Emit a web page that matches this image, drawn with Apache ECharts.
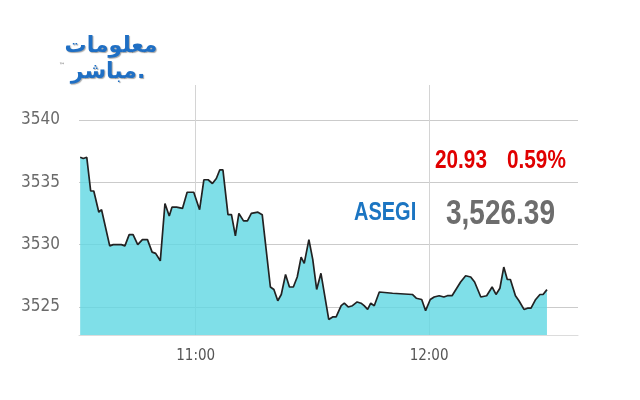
<!DOCTYPE html>
<html><head><meta charset="utf-8">
<script src="https://cdn.jsdelivr.net/npm/echarts@6/dist/echarts.min.js"></script>
<style>html,body{margin:0;padding:0;background:#fff}#c{width:640px;height:400px}</style>
</head><body><div id="c"></div>
<script>
// minutes after 10:00
const minutes = [30.3,31.1,32.0,33.0,33.8,35.1,35.8,37.9,38.8,40.9,41.8,42.9,43.9,45.1,46.3,47.6,48.8,49.7,50.9,52.1,53.2,53.9,55.1,56.6,57.8,59.5,61.0,62.1,63.2,64.3,65.3,66.2,67.0,68.3,69.2,70.2,71.1,72.3,73.3,74.3,76.0,77.1,79.2,80.1,81.1,82.0,83.1,84.1,85.1,86.1,87.1,87.9,89.1,90.1,91.1,92.2,94.2,95.2,96.1,97.4,98.2,99.2,100.3,101.5,102.5,103.3,104.2,105.0,105.9,107.2,110.6,115.7,116.7,118.1,119.1,120.3,121.3,122.6,123.8,124.7,125.9,128.1,129.4,130.7,131.7,133.3,134.8,136.2,137.2,138.2,139.2,140.1,140.9,142.2,143.1,144.4,145.3,146.2,147.4,148.5,149.3,150.3];
const values = [3537.0,3536.9,3537.0,3534.3,3534.3,3532.6,3532.8,3529.9,3530.0,3530.0,3529.9,3530.8,3530.8,3530.0,3530.4,3530.4,3529.4,3529.3,3528.7,3533.3,3532.3,3533.0,3533.0,3532.9,3534.2,3534.2,3532.8,3535.2,3535.2,3534.9,3535.3,3536.0,3536.0,3532.4,3532.4,3530.7,3532.5,3531.9,3531.9,3532.5,3532.6,3532.4,3526.6,3526.4,3525.5,3526.0,3527.6,3526.6,3526.6,3527.4,3529.0,3528.5,3530.4,3528.8,3526.4,3527.7,3524.0,3524.2,3524.2,3525.1,3525.3,3525.0,3525.1,3525.4,3525.3,3525.1,3524.8,3525.3,3525.1,3526.2,3526.1,3526.0,3525.7,3525.6,3524.7,3525.6,3525.8,3525.9,3525.8,3525.9,3525.9,3527.0,3527.5,3527.4,3527.0,3525.8,3525.9,3526.6,3526.0,3526.5,3528.2,3527.2,3527.2,3525.9,3525.5,3524.8,3524.9,3524.9,3525.6,3526.0,3526.0,3526.39];
const startHour = 10;
const indexName = 'ASEGI';
const lastValue = '3,526.39';
const change = '20.93';
const changePct = '0.59%';
const logoLine1 = 'معلومات';
const logoLine2 = 'مباشر.';

const sans = '"DejaVu Sans Condensed", "Liberation Sans", Arial, sans-serif';
const bold = '"Liberation Sans", Arial, sans-serif';
const data = minutes.map((m, i) => [m / 60, values[i]]);

const chart = echarts.init(document.getElementById('c'));
chart.setOption({
  animation: false,
  backgroundColor: '#fff',
  grid: { left: 79, right: 62, top: 85, bottom: 65 },
  xAxis: {
    type: 'value', min: 0.5, max: 2.638, splitNumber: 2,
    axisLine: { show: true, lineStyle: { color: '#dcdcdc', width: 1 } },
    axisTick: { show: false },
    axisLabel: {
      showMinLabel: false, showMaxLabel: false, margin: 14,
      color: '#555', fontSize: 15, fontFamily: sans,
      formatter: v => { const h = Math.floor(startHour + v + 1e-9); const mm = Math.round((startHour + v - h) * 60); return h + ':' + String(mm).padStart(2, '0'); }
    },
    splitLine: { show: true, showMinLine: false, showMaxLine: false, lineStyle: { color: '#d4d4d4', width: 1 } }
  },
  yAxis: {
    type: 'value', min: 3522.75, max: 3542.8, splitNumber: 4,
    axisLine: { show: false }, axisTick: { show: false },
    axisLabel: { showMinLabel: false, showMaxLabel: false, margin: 19, color: '#6a6a6a', fontSize: 17, fontFamily: sans, formatter: v => String(v) },
    splitLine: { show: true, showMinLine: false, showMaxLine: false, lineStyle: { color: '#cbcbcb', width: 1 } }
  },
  series: [{
    type: 'line', data: data, symbol: 'none', smooth: false,
    lineStyle: { color: '#222', width: 1.7 },
    areaStyle: { color: 'rgba(95,215,226,0.8)', opacity: 1 }
  }],
  graphic: [
    { type: 'text', x: 435, y: 161, scaleX: 0.83, style: { text: change, fill: '#e00000', font: 'bold 25px ' + bold, align: 'left', verticalAlign: 'middle' } },
    { type: 'text', x: 507, y: 161, scaleX: 0.83, style: { text: changePct, fill: '#e00000', font: 'bold 25px ' + bold, align: 'left', verticalAlign: 'middle' } },
    { type: 'text', x: 354, y: 213, scaleX: 0.8, style: { text: indexName, fill: '#1b75c2', font: 'bold 25px ' + bold, align: 'left', verticalAlign: 'middle' } },
    { type: 'text', x: 446, y: 214, scaleX: 0.8, style: { text: lastValue, fill: '#6d6d6d', font: 'bold 35px ' + bold, align: 'left', verticalAlign: 'middle' } },
    { type: 'text', x: 111, y: 46, style: { text: logoLine1, fill: '#1f6fc4', font: 'bold 22px "DejaVu Sans", sans-serif', align: 'center', verticalAlign: 'middle', textShadowColor: 'rgba(0,0,0,0.35)', textShadowBlur: 1, textShadowOffsetX: 1, textShadowOffsetY: 1 } },
    { type: 'text', x: 108, y: 72, style: { text: logoLine2, fill: '#1f6fc4', font: 'bold 22px "DejaVu Sans", sans-serif', align: 'center', verticalAlign: 'middle', textShadowColor: 'rgba(0,0,0,0.35)', textShadowBlur: 1, textShadowOffsetX: 1, textShadowOffsetY: 1 } },
    { type: 'text', x: 62, y: 65, style: { text: '™', fill: '#555', font: '6px "DejaVu Sans", sans-serif', align: 'center', verticalAlign: 'middle' } }
  ]
});
</script>
</body></html>
